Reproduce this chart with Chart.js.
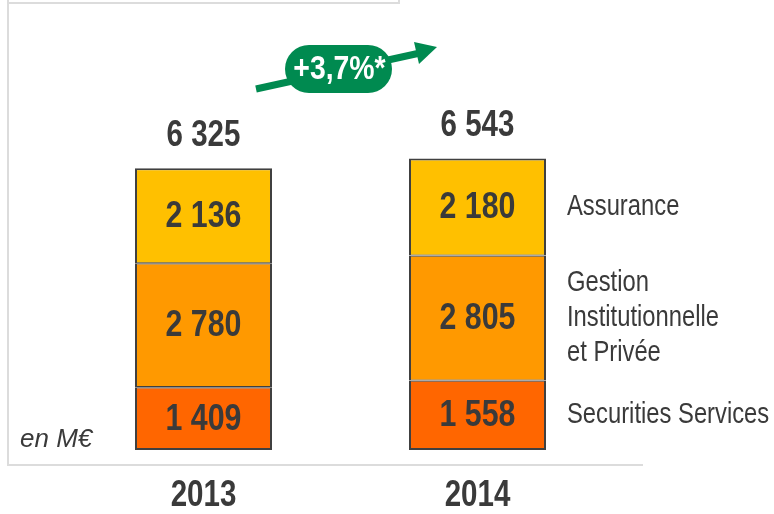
<!DOCTYPE html>
<html>
<head>
<meta charset="utf-8">
<script src="https://cdn.jsdelivr.net/npm/chart.js@4/dist/chart.umd.min.js"></script>
<style>
  html, body { margin: 0; padding: 0; background: #fff; }
  #wrap { width: 774px; height: 514px; position: relative; }
</style>
</head>
<body>
<div id="wrap"><canvas id="chart" width="774" height="514"></canvas></div>
<script>
// Data
const years = ['2013', '2014'];
const securities = [1409, 1558];
const gestion = [2780, 2805];
const assurance = [2136, 2180];
const totals = [6325, 6543];
const seriesNames = ['Securities Services', 'Gestion\nInstitutionnelle\net Privée', 'Assurance'];
const growthLabel = '+3,7%*';

const SANS = '"Liberation Sans", Arial, sans-serif';
const NARROW_X = 0.82; // Arial Narrow look: squeeze Arial horizontally
const TXT = '#3a3a3a';
const GREEN = '#008a50';

function fmt(n) {
    return String(n).replace(/\B(?=(\d{3})+(?!\d))/g, ' ');
}

// draws text squeezed horizontally
function narrowText(ctx, text, x, y, sx) {
    ctx.save();
    ctx.translate(x, y);
    ctx.scale(sx, 1);
    ctx.fillText(text, 0, 0);
    ctx.restore();
}

// Decorations + labels
const decoPlugin = {
    id: 'deco',
    beforeDraw(chart) {
        const ctx = chart.ctx;
        ctx.save();
        ctx.strokeStyle = '#dcdcdc';
        ctx.lineWidth = 2;
        ctx.beginPath();
        ctx.moveTo(8, 0); ctx.lineTo(8, 465); ctx.lineTo(643, 465);
        ctx.moveTo(8, 3); ctx.lineTo(399, 3); ctx.lineTo(399, 0);
        ctx.stroke();
        ctx.restore();
    },
    afterDatasetsDraw(chart) {
        const ctx = chart.ctx;
        ctx.save();
        ctx.textAlign = 'center';
        ctx.textBaseline = 'middle';
        ctx.fillStyle = TXT;

        // values inside segments
        ctx.font = 'bold 37px ' + SANS;
        chart.data.datasets.forEach((ds, di) => {
            chart.getDatasetMeta(di).data.forEach((el, i) => {
                narrowText(ctx, fmt(ds.data[i]), el.x, (el.y + el.base) / 2 + 1, NARROW_X);
            });
        });

        // totals + years
        const topMeta = chart.getDatasetMeta(chart.data.datasets.length - 1);
        const xs = chart.scales.x;
        ctx.font = 'bold 36px ' + SANS;
        totals.forEach((t, i) => {
            const el = topMeta.data[i];
            narrowText(ctx, fmt(t), el.x, el.y - 32, NARROW_X);
        });
        years.forEach((y, i) => {
            narrowText(ctx, y, xs.getPixelForValue(i), 496, NARROW_X);
        });

        // legend labels right of last bar
        ctx.textAlign = 'left';
        ctx.font = '29px ' + SANS;
        const last = years.length - 1;
        chart.data.datasets.forEach((ds, di) => {
            const el = chart.getDatasetMeta(di).data[last];
            const cy = (el.y + el.base) / 2 + 2;
            const lines = seriesNames[di].split('\n');
            const lh = 35;
            lines.forEach((ln, k) => {
                narrowText(ctx, ln, 567, cy - (lines.length - 1) * lh / 2 + k * lh - 2, NARROW_X);
            });
        });

        // unit
        ctx.font = 'italic 26px ' + SANS;
        ctx.fillText('en M€', 20, 440);

        // growth arrow
        ctx.strokeStyle = GREEN;
        ctx.fillStyle = GREEN;
        ctx.lineWidth = 7;
        ctx.beginPath();
        ctx.moveTo(256, 89);
        ctx.lineTo(420, 53);
        ctx.stroke();
        ctx.beginPath();
        ctx.moveTo(437, 47);
        ctx.lineTo(414, 42);
        ctx.lineTo(419, 64);
        ctx.closePath();
        ctx.fill();

        // pill
        const px = 285, py = 45, pw = 107, ph = 48, r = 24;
        ctx.beginPath();
        ctx.roundRect(px, py, pw, ph, r);
        ctx.fill();
        ctx.fillStyle = '#fff';
        ctx.textAlign = 'center';
        ctx.font = 'bold 33px ' + SANS;
        narrowText(ctx, growthLabel, px + pw / 2 + 1, py + ph / 2 + 1, 0.86);
        ctx.restore();
    }
};

const ctx = document.getElementById('chart').getContext('2d');
new Chart(ctx, {
    type: 'bar',
    data: {
        labels: years,
        datasets: [
            { label: 'Securities Services', data: securities, backgroundColor: '#ff6600',
              borderColor: '#404040', borderWidth: { top: 1.2, bottom: 2, left: 2, right: 2 }, borderSkipped: false },
            { label: 'Gestion Institutionnelle et Privée', data: gestion, backgroundColor: '#ff9900',
              borderColor: '#404040', borderWidth: { top: 1.2, bottom: 1.2, left: 2, right: 2 }, borderSkipped: false },
            { label: 'Assurance', data: assurance, backgroundColor: '#ffc000',
              borderColor: '#404040', borderWidth: { top: 2, bottom: 1.2, left: 2, right: 2 }, borderSkipped: false }
        ]
    },
    options: {
        responsive: false,
        animation: false,
        layout: { padding: { left: 66.5, right: 159.5, top: 49, bottom: 64 } },
        datasets: { bar: { barPercentage: 0.5, categoryPercentage: 1 } },
        plugins: { legend: { display: false }, tooltip: { enabled: false } },
        scales: {
            x: { stacked: true, display: false },
            y: { stacked: true, display: false, min: 0, max: 9000 }
        }
    },
    plugins: [decoPlugin]
});
</script>
</body>
</html>
